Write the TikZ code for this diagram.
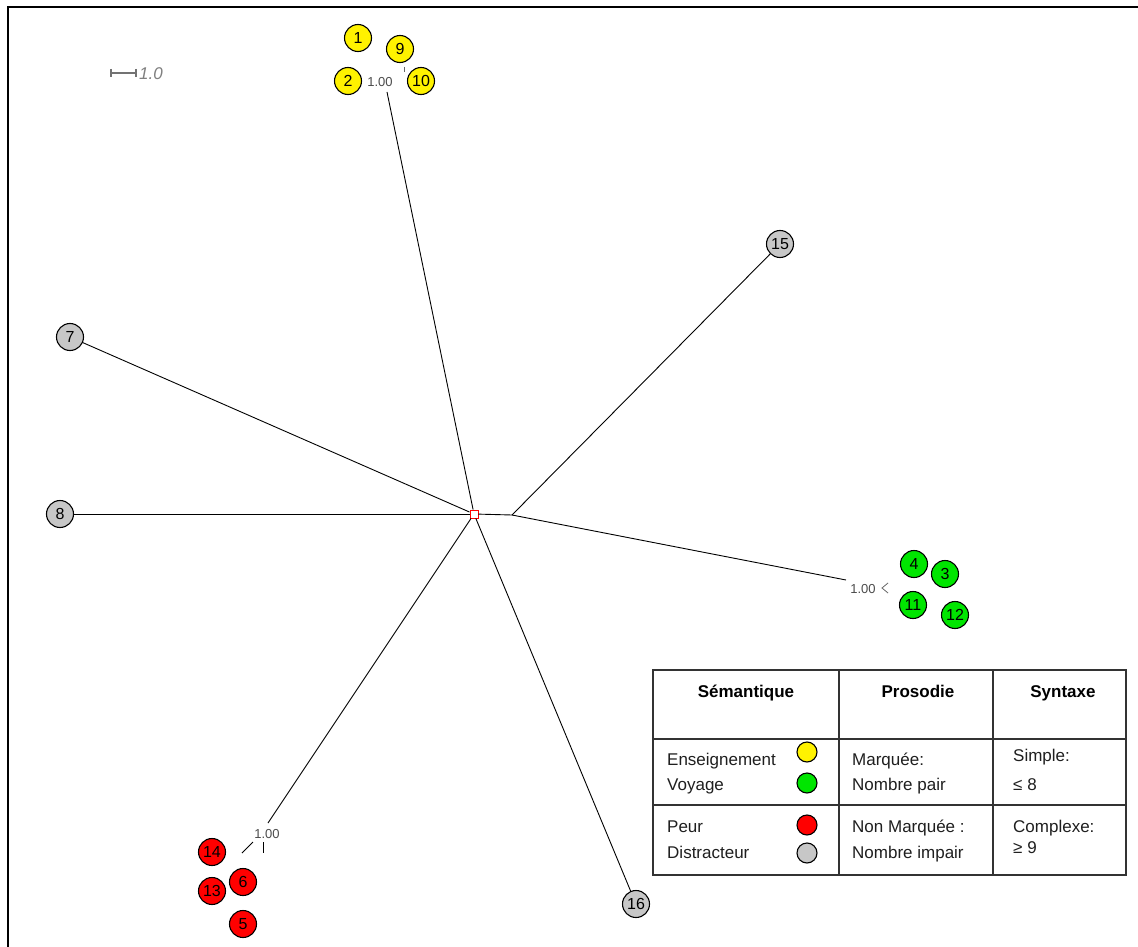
\documentclass[tikz,border=0pt]{standalone}
\usepackage{fontspec}
\setmainfont{Liberation Sans}
\begin{document}
\begin{tikzpicture}[x=1pt,y=-1pt,
  leaf/.style={circle,draw=black,line width=1.1pt,minimum size=27pt,inner sep=0pt,font=\fontsize{16}{16}\selectfont},
  yleaf/.style={leaf,fill=yellow},
  gleaf/.style={leaf,fill=green!90!black},
  rleaf/.style={leaf,fill=red},
  aleaf/.style={leaf,fill=black!22},
  edge/.style={draw=black,line width=0.9pt},
  blab/.style={font=\fontsize{13}{13}\selectfont,text=black!70,inner sep=0pt},
  hdr/.style={font=\bfseries\fontsize{17}{17}\selectfont,inner sep=0pt,anchor=base},
  txt/.style={font=\fontsize{17}{17}\selectfont,anchor=base west,inner sep=0pt,text=black!88},
  dot/.style={circle,draw=black,line width=1.1pt,minimum size=20pt,inner sep=0pt}
]
\useasboundingbox (0,0) rectangle (1138,947);
\fill[white] (0,0) rectangle (1138,947);
\draw[line width=2pt] (8,947) -- (8,7) -- (1138,7);

% scale bar
\coordinate (sa) at (111,73);
\coordinate (sb) at (136,73);
\draw[black!55,line width=1.2pt] (sa) -- (sb) (111,69) -- (111,77) (136,69) -- (136,77);
\node[anchor=west,inner sep=0pt,font=\itshape\fontsize{17}{17}\selectfont,text=black!50] (scl) at (139,74) {1.0};

% leaves
\node[yleaf] (n1) at (358,38) {1};
\node[yleaf] (n9) at (400,49) {9};
\node[yleaf] (n2) at (348,81) {2};
\node[yleaf] (n10) at (421,81) {10};
\node[aleaf] (n15) at (780,244) {15};
\node[aleaf] (n7) at (70,337) {7};
\node[aleaf] (n8) at (60,514) {8};
\node[gleaf] (n4) at (914,564) {4};
\node[gleaf] (n3) at (945,574) {3};
\node[gleaf] (n11) at (913,605) {11};
\node[gleaf] (n12) at (955,615) {12};
\node[rleaf] (n14) at (212,852) {14};
\node[rleaf] (n6) at (243,882) {6};
\node[rleaf] (n13) at (212,891) {13};
\node[rleaf] (n5) at (243,924) {5};
\node[aleaf] (n16) at (636,904) {16};

% centre and inner points
\node[draw=red,fill=white,minimum size=8pt,inner sep=0pt,line width=0.9pt] (c) at (474,514) {};
\coordinate (b) at (512,515);
\coordinate (ye) at (387,92);
\coordinate (ge) at (846,580);
\coordinate (re) at (268,823);

\path[edge] (c) -- (ye);
\path[edge] (c) -- (n7);
\path[edge] (c) -- (n8);
\path[edge] (c) -- (re);
\path[edge] (c) -- (n16);
\path[edge] (c) -- (b);
\path[edge] (b) -- (n15);
\path[edge] (b) -- (ge);

% small branch marks
\draw[black!60,line width=0.8pt] (404,67) -- (404,72);
\draw[black!60,line width=0.8pt] (888,583) -- (882,588) -- (888,593);
\draw[black,line width=0.9pt] (242,853) -- (253,842);
\draw[black,line width=0.9pt] (263,842) -- (263,853);

% bootstrap labels
\node[blab] (l1) at (380,82) {1.00};
\node[blab] (l2) at (863,589) {1.00};
\node[blab] (l3) at (267,834) {1.00};

% legend table
\draw[line width=1.2pt,black!80] (653,670) rectangle (1126,875);
\draw[line width=1.2pt,black!80] (839,670) -- (839,875) (993,670) -- (993,875)
  (653,739) -- (1126,739) (653,805) -- (1126,805);
\node[hdr] (h1) at (746,697) {Sémantique};
\node[hdr] (h2) at (918,697) {Prosodie};
\node[hdr] (h3) at (1063,697) {Syntaxe};
\node[txt] (t1) at (667,765) {Enseignement};
\node[txt] (t2) at (667,790) {Voyage};
\node[txt] (t3) at (667,832) {Peur};
\node[txt] (t4) at (667,858) {Distracteur};
\node[txt] (t5) at (852,765) {Marquée:};
\node[txt] (t6) at (852,790) {Nombre pair};
\node[txt] (t7) at (852,832) {Non Marquée :};
\node[txt] (t8) at (852,858) {Nombre impair};
\node[txt] (t9) at (1013,761) {Simple:};
\node[txt] (t10) at (1013,790) {≤ 8};
\node[txt] (t11) at (1013,832) {Complexe:};
\node[txt] (t12) at (1013,853) {≥ 9};
\node[dot,fill=yellow] (d1) at (807,752) {};
\node[dot,fill=green!90!black] (d2) at (807,783) {};
\node[dot,fill=red] (d3) at (807,825) {};
\node[dot,fill=black!22] (d4) at (807,853) {};
\end{tikzpicture}
\end{document}
